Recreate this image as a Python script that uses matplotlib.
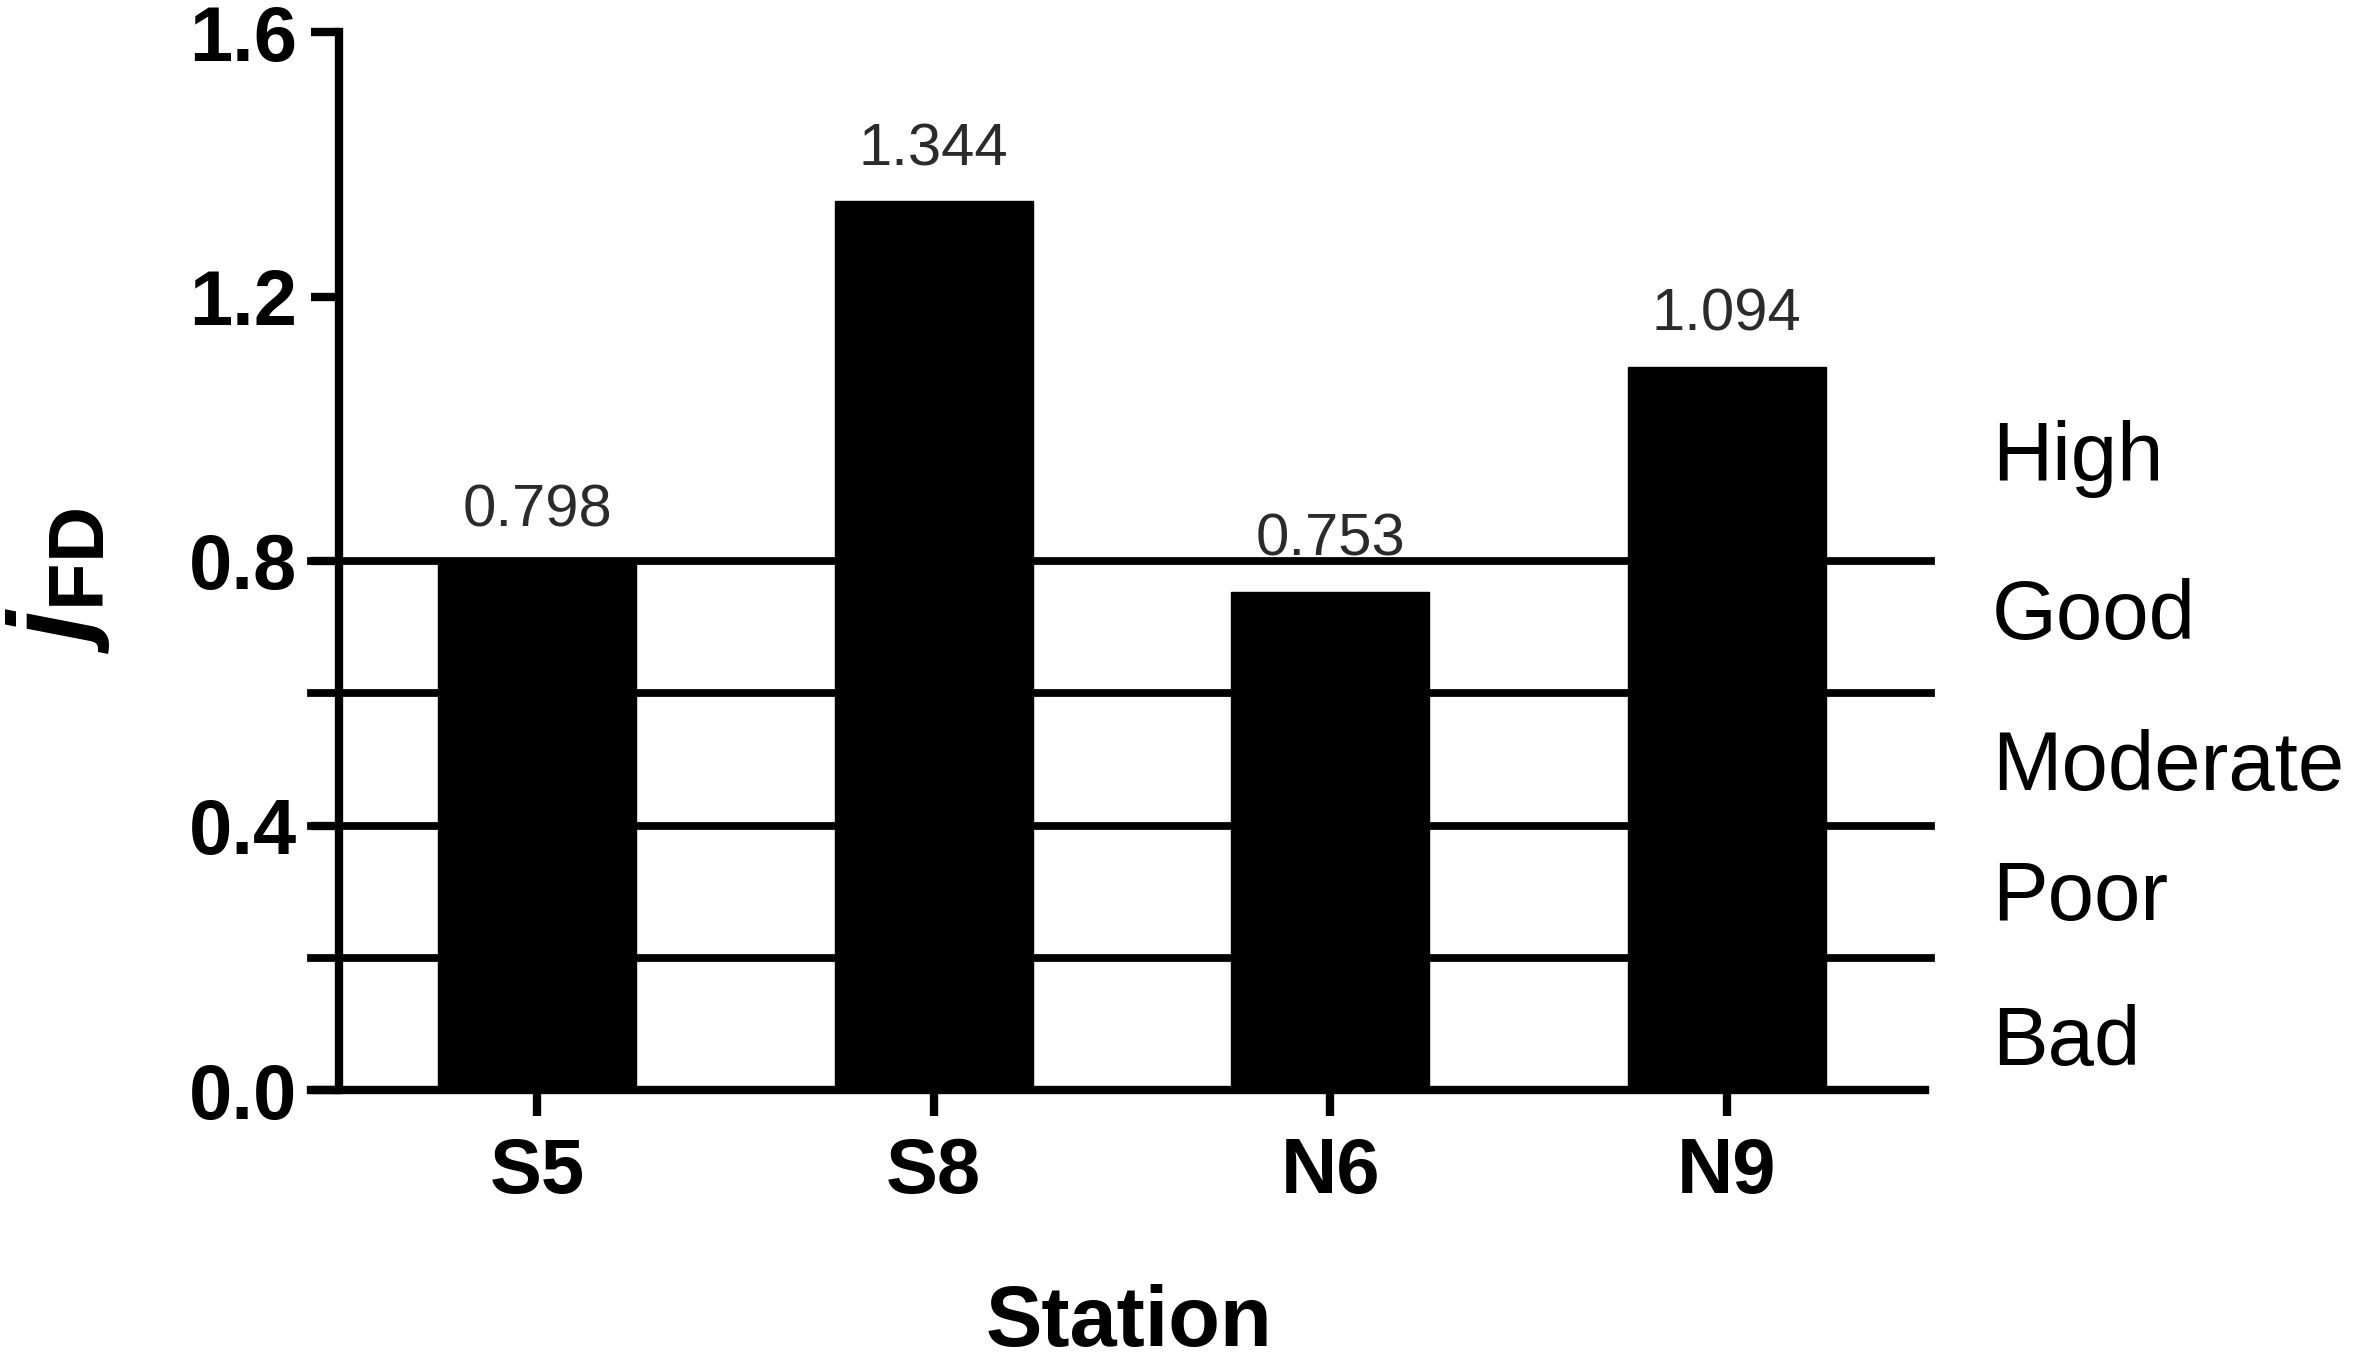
import matplotlib
matplotlib.use("Agg")
import matplotlib.pyplot as plt
import matplotlib.transforms as mtransforms

plt.rcParams['font.family'] = ['Liberation Sans', 'DejaVu Sans']
plt.rcParams['mathtext.fontset'] = 'custom'
plt.rcParams['mathtext.it'] = 'Liberation Sans:bold:italic'
plt.rcParams['mathtext.bf'] = 'Liberation Sans:bold'
plt.rcParams['mathtext.rm'] = 'Liberation Sans'

# data
stations = ['S5', 'S8', 'N6', 'N9']
jfd = [0.798, 1.344, 0.753, 1.094]
class_bounds = [0.2, 0.4, 0.6, 0.8]
class_names = ['High', 'Good', 'Moderate', 'Poor', 'Bad']
class_label_y = [0.921, 0.682, 0.454, 0.257, 0.038]   # where the names sit
yticks = [0.0, 0.4, 0.8, 1.2, 1.6]

W, H = 2362, 1364
fig = plt.figure(figsize=(W / 100, H / 100), dpi=100)
ax = fig.add_axes([339 / W, 1 - 1090 / H, (1925 - 339) / W, (1090 - 32) / H])

lw = 6.0
tick_out = -(339 - 311) / (1925 - 339)   # lines reach out as far as the ticks

for b in class_bounds:
    ax.axhline(b, xmin=tick_out, xmax=1.004, color='black', lw=5.6,
               clip_on=False, zorder=1)

x = range(len(stations))
ax.bar(x, jfd, width=0.5, color='black', edgecolor='black', linewidth=1, zorder=2)

for xi, v in zip(x, jfd):
    ax.annotate(f'{v:.3f}', (xi, v), xytext=(0, 26), textcoords='offset points',
                ha='center', va='baseline', fontsize=43, color='#2b2b2b')

# x axis drawn as a line so it can reach left of the y axis
ax.axhline(0, xmin=tick_out, xmax=1, color='black', lw=lw, clip_on=False, zorder=3)

ax.set_xlim(-0.5, 3.5)
ax.set_ylim(0, 1.6)
ax.set_xticks(list(x))
ax.set_xticklabels(stations, fontsize=56, fontweight='bold')
ax.set_yticks(yticks)
ax.set_yticklabels([f'{t:.1f}' for t in yticks], fontsize=56, fontweight='bold')
ax.tick_params(axis='y', length=20, width=lw, pad=10)
ax.tick_params(axis='x', length=19, width=lw, pad=14)

for s in ['top', 'right', 'bottom']:
    ax.spines[s].set_visible(False)
ax.spines['left'].set_linewidth(lw)
ax.spines['left'].set_zorder(3)

trans = mtransforms.blended_transform_factory(ax.transAxes, ax.transData)
for name, yy in zip(class_names, class_label_y):
    ax.text((1992 - 339) / (1925 - 339), yy, name, transform=trans,
            ha='left', va='baseline', fontsize=60)

fig.text(58 / W, 1 - 580 / H, r'$j_{\mathbf{FD}}$', rotation=90,
         ha='center', va='center', fontsize=80)
fig.text(1129 / W, 1 - 1346 / H, 'Station', ha='center', va='baseline',
         fontsize=61, fontweight='bold')

fig.savefig('out.png', dpi=100, facecolor='white')
